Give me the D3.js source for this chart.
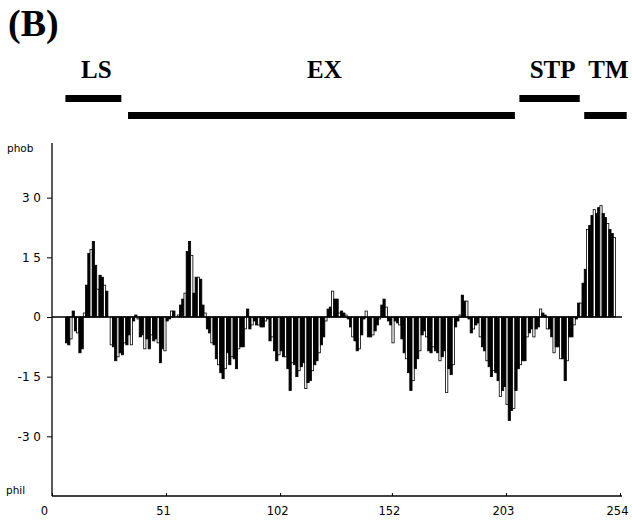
<!DOCTYPE html>
<html>
<head>
<meta charset="utf-8">
<script src="https://cdn.jsdelivr.net/npm/d3@7"></script>
<style>
  body { margin: 0; background: #fff; }
  svg { display: block; }
</style>
</head>
<body>
<div id="chart"></div>
<script>
// hydropathy value per residue (1..254)
var hydro = [
  0, 0, 0, 0, 0, 0, -0.65, -0.7, -0.55, 0.15,
  -0.35, -0.4, -0.9, -0.8, 0.1, 0.8, 1.6, 1.7, 1.9, 1.3,
  0.7, 1.05, 1.0, 0.8, 0.65, 0.0, -0.7, -0.75, -1.1, -1.0,
  -0.9, -0.95, -0.65, -0.7, -0.45, -0.7, -0.1, 0.05, -0.05, -0.5,
  -0.45, -0.8, -0.55, -0.8, -0.45, -0.6, -0.55, -0.65, -1.15, -0.8,
  -0.85, -0.1, -0.05, 0.15, 0.15, 0.0, 0.05, 0.3, 0.45, 0.6,
  1.65, 1.9, 1.55, 0.6, 1.0, 1.0, 0.95, 0.3, 0.1, -0.3,
  -0.4, -0.65, -0.7, -1.05, -1.2, -1.4, -1.55, -1.3, -0.9, -1.2,
  -1.0, -1.05, -1.3, -0.8, -0.75, -0.75, -0.3, 0.2, -0.3, -0.2,
  -0.1, -0.2, -0.2, -0.25, -0.25, -0.1, -0.05, -0.6, -0.5, -0.85,
  -1.1, -0.95, -0.85, -1.0, -1.0, -1.3, -1.85, -1.15, -1.2, -1.5,
  -1.35, -1.25, -1.15, -1.8, -1.65, -1.6, -1.35, -1.2, -1.1, -0.9,
  -0.7, -0.5, -0.1, 0.2, 0.25, 0.65, 0.45, 0.45, 0.1, 0.15,
  0.1, 0.05, -0.05, -0.25, -0.5, -0.6, -0.85, -0.8, -0.45, -0.05,
  0.15, -0.5, -0.5, -0.45, -0.35, -0.2, -0.05, 0.3, 0.45, 0.25,
  -0.1, -0.2, -0.65, -0.1, -0.15, -0.2, -0.55, -0.9, -1.05, -1.4,
  -1.85, -1.6, -1.3, -1.05, -0.85, -0.45, -0.35, -0.5, -0.85, -0.9,
  -0.75, -0.85, -0.9, -1.1, -1.0, -0.85, -1.9, -1.3, -1.45, -1.2,
  -0.25, -0.1, 0.05, 0.55, 0.4, 0.4, -0.05, -0.4, -0.3, -0.2,
  -0.15, -0.5, -0.75, -0.85, -1.1, -1.25, -1.5, -1.35, -1.4, -1.6,
  -2.0, -1.85, -1.75, -2.2, -2.6, -2.35, -2.3, -1.85, -1.3, -1.2,
  -1.1, -1.1, -0.5, -0.4, -0.3, -0.5, -0.3, -0.25, 0.2, 0.1,
  0.05, -0.3, -0.3, -0.5, -0.9, -0.75, -0.75, -1.05, -1.05, -1.6,
  -1.1, -0.5, -0.5, -0.2, -0.05, 0.35, 0.35, 0.85, 1.2, 2.2,
  2.3, 2.55, 2.7, 2.6, 2.75, 2.8, 2.6, 2.5, 2.35, 2.2,
  2.1, 2.0, 0.0, 0.0
];

var xTicks = [0, 51, 102, 152, 203, 254];
var yTicks = [3.0, 1.5, 0, -1.5, -3.0];
var yTickLabels = ["3 0", "1 5", "0", "-1 5", "-3 0"];

// domain segments above the plot
var segLabels = ["LS", "EX", "STP", "TM"];
var segStart = [6, 34, 209, 238];
var segEnd = [31, 207, 236, 257];
var segRow = [0, 1, 0, 1];

var width = 632, height = 522;
var margin = { left: 52, right: 12, top: 138, bottom: 26 };

var svg = d3.select("#chart").append("svg")
    .attr("width", width)
    .attr("height", height);

var x = d3.scaleLinear()
    .domain([0, 254])
    .range([margin.left, 620]);
var y = d3.scaleLinear()
    .domain([-4.5, 4.5])
    .range([height - margin.bottom, margin.top]);

var bw = x(1) - x(0);

// panel letter
svg.append("text")
    .attr("x", 8)
    .attr("y", 36)
    .attr("font-family", "Liberation Serif, Times New Roman, serif")
    .attr("font-weight", "bold")
    .attr("font-size", 38)
    .text("(B)");

// domain labels and bars
svg.selectAll(".seglabel")
    .data(segLabels)
    .enter().append("text")
    .attr("class", "seglabel")
    .attr("x", function(d, i) { return x((segStart[i] + segEnd[i]) / 2) + 3; })
    .attr("y", 78)
    .attr("text-anchor", "middle")
    .attr("font-family", "Liberation Serif, Times New Roman, serif")
    .attr("font-weight", "bold")
    .attr("font-size", 25)
    .text(function(d) { return d; });

svg.selectAll(".segbar")
    .data(segLabels)
    .enter().append("rect")
    .attr("class", "segbar")
    .attr("x", function(d, i) { return x(segStart[i]); })
    .attr("width", function(d, i) { return x(segEnd[i]) - x(segStart[i]); })
    .attr("y", function(d, i) { return segRow[i] ? 112 : 95; })
    .attr("height", 7)
    .attr("fill", "#000");

// bars, one per residue
var g = svg.append("g");
g.selectAll("rect")
    .data(hydro)
    .enter().append("rect")
    .attr("x", function(d, i) { return x(i); })
    .attr("width", bw)
    .attr("y", function(d) { return y(Math.max(0, d)); })
    .attr("height", function(d) { return Math.abs(y(d) - y(0)); })
    .attr("fill", function(d, i) { return i % 3 === 2 ? "#fff" : "#000"; })
    .attr("stroke", function(d) { return d === 0 ? "none" : "#000"; })
    .attr("stroke-width", 0.8);

// zero line
svg.append("line")
    .attr("x1", x(0)).attr("x2", 622)
    .attr("y1", y(0)).attr("y2", y(0))
    .attr("stroke", "#000")
    .attr("stroke-width", 1.6);

// y axis
var yAxis = svg.append("g")
    .attr("transform", "translate(" + margin.left + ",0)")
    .call(d3.axisLeft(y)
        .tickValues(yTicks)
        .tickSize(5)
        .tickFormat(function(d, i) { return yTickLabels[i]; }));
yAxis.select(".domain").attr("d", "M0," + (margin.top + 5) + "V" + y(-4.5)).attr("stroke-width", 1.3);
yAxis.selectAll("text")
    .attr("font-family", "DejaVu Sans, sans-serif")
    .attr("font-size", 12)
    .attr("dx", -3);

// x axis
var xAxis = svg.append("g")
    .attr("transform", "translate(0," + y(-4.5) + ")")
    .call(d3.axisBottom(x)
        .tickValues(xTicks)
        .tickSize(3)
        .tickFormat(d3.format("d")));
xAxis.select(".domain").attr("d", "M" + x(0) + ",0H622").attr("stroke-width", 1.3);
xAxis.selectAll("line").attr("y1", -3).attr("y2", 0);
xAxis.selectAll("text")
    .attr("font-family", "DejaVu Sans, sans-serif")
    .attr("font-size", 11.5)
    .attr("dy", "1.1em")
    .attr("dx", function(d, i) { return i === 0 ? -8 : -3; });

// end labels on the y axis
svg.append("text")
    .attr("x", 7).attr("y", 152)
    .attr("font-family", "DejaVu Sans, sans-serif")
    .attr("font-size", 10.5)
    .text("phob");
svg.append("text")
    .attr("x", 6).attr("y", 494)
    .attr("font-family", "DejaVu Sans, sans-serif")
    .attr("font-size", 10.5)
    .text("phil");
</script>
</body>
</html>
